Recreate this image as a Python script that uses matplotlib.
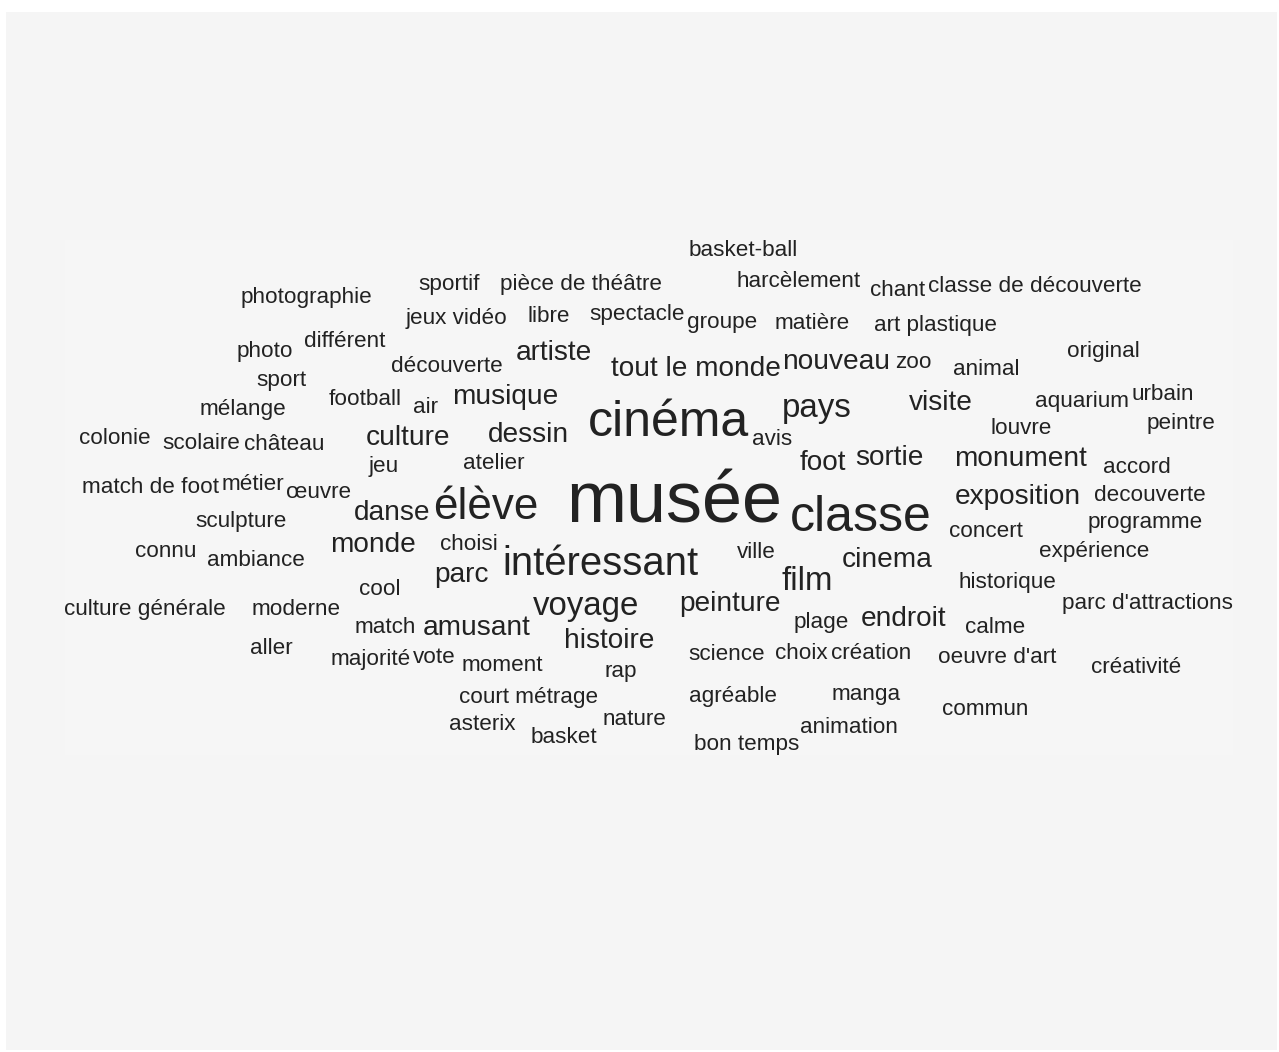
import matplotlib
matplotlib.use("Agg")
import matplotlib.pyplot as plt
from matplotlib.patches import Rectangle

# word cloud: words, weight class (px of em), and where each one sits (left, right, middle y)
words = ["basket-ball", "sportif", "pièce de théâtre", "harcèlement", "chant", "classe de découverte",
         "photographie", "jeux vidéo", "libre", "spectacle", "groupe", "matière", "art plastique",
         "différent", "photo", "artiste", "original", "découverte", "tout le monde", "nouveau", "zoo",
         "animal", "sport", "football", "air", "musique", "aquarium", "urbain", "mélange", "pays",
         "visite", "cinéma", "colonie", "scolaire", "château", "culture", "dessin", "avis", "louvre",
         "peintre", "foot", "sortie", "monument", "jeu", "atelier", "accord", "match de foot",
         "métier", "œuvre", "musée", "élève", "exposition", "decouverte", "classe", "danse",
         "sculpture", "programme", "concert", "connu", "ambiance", "monde", "choisi", "intéressant",
         "ville", "cinema", "expérience", "cool", "parc", "film", "historique", "culture générale",
         "moderne", "voyage", "peinture", "parc d'attractions", "plage", "endroit", "match", "amusant",
         "calme", "histoire", "aller", "majorité", "vote", "moment", "rap", "science", "choix",
         "création", "oeuvre d'art", "créativité", "court métrage", "agréable", "manga", "commun",
         "asterix", "nature", "animation", "basket", "bon temps"]

sizes = [22, 22, 22, 22, 22, 22,
         22, 22, 22, 22, 22, 22, 22,
         22, 22, 28, 22, 22, 28, 28, 22,
         22, 22, 22, 22, 28, 22, 22, 22, 33,
         28, 50, 22, 22, 22, 28, 28, 22, 22,
         22, 28, 28, 28, 22, 22, 22, 22,
         22, 22, 72, 44, 28, 22, 50, 28,
         22, 22, 22, 22, 22, 28, 22, 40,
         22, 28, 22, 22, 28, 33, 22, 22,
         22, 33, 28, 22, 22, 28, 22, 28,
         22, 28, 22, 22, 22, 22, 22, 22, 22,
         22, 22, 22, 22, 22, 22, 22,
         22, 22, 22, 22, 22]

x_left = [689, 418, 501, 738, 870, 929,
          241, 406, 528, 590, 688, 775, 875,
          305, 237, 516, 1067, 391, 611, 783, 895,
          953, 256, 329, 413, 453, 1035, 1132, 200, 782,
          909, 588, 80, 163, 244, 366, 488, 753, 990,
          1147, 800, 856, 955, 369, 463, 1104, 83,
          222, 287, 567, 433, 955, 1094, 790, 355,
          196, 1088, 949, 136, 208, 331, 441, 505,
          737, 843, 1040, 359, 434, 781, 958, 65,
          252, 532, 680, 1063, 794, 861, 355, 423,
          965, 565, 250, 331, 413, 462, 605, 689, 776,
          832, 938, 1092, 460, 689, 832, 942,
          449, 603, 801, 531, 695]

x_right = [797, 480, 662, 860, 925, 1141,
           371, 507, 570, 685, 757, 850, 997,
           385, 293, 592, 1139, 502, 780, 890, 931,
           1019, 306, 401, 438, 557, 1128, 1193, 286, 852,
           973, 748, 150, 240, 324, 450, 568, 792, 1052,
           1215, 846, 923, 1087, 399, 524, 1170, 218,
           284, 350, 782, 538, 1080, 1205, 931, 430,
           286, 1202, 1023, 196, 304, 415, 497, 696,
           775, 931, 1149, 400, 489, 833, 1056, 225,
           340, 640, 780, 1233, 848, 946, 415, 530,
           1025, 654, 292, 410, 455, 543, 637, 764, 827,
           911, 1056, 1181, 598, 776, 900, 1028,
           515, 667, 897, 597, 799]

y_mid = [248, 282, 282, 279, 288, 284,
         295, 316, 314, 312, 320, 321, 323,
         339, 349, 350, 349, 364, 366, 359, 360,
         367, 378, 397, 405, 394, 399, 392, 407, 405,
         400, 418, 436, 441, 442, 435, 432, 437, 426,
         421, 460, 455, 456, 464, 461, 465, 485,
         482, 490, 497, 503, 494, 493, 513, 510,
         519, 520, 529, 549, 558, 542, 542, 561,
         550, 557, 549, 587, 572, 578, 580, 607,
         607, 603, 601, 601, 620, 616, 625, 625,
         625, 638, 646, 657, 655, 663, 669, 652, 651,
         651, 655, 665, 695, 694, 692, 707,
         722, 717, 725, 735, 742]

W, H = 1279, 1052
fig = plt.figure(figsize=(W / 100, H / 100), dpi=100, facecolor="white")
ax = fig.add_axes([0, 0, 1, 1])
ax.set_xlim(0, W)
ax.set_ylim(H, 0)
ax.axis("off")

# panel backgrounds
ax.add_patch(Rectangle((6, 12), 1271, 1038, facecolor="#f5f5f5", edgecolor="none"))
ax.add_patch(Rectangle((65, 240), 1168, 515, facecolor="#f6f6f6", edgecolor="none"))

for w, s, xl, xr, ym in zip(words, sizes, x_left, x_right, y_mid):
    xc = (xl + xr) / 2
    base = ym + 0.36 * s
    px = s * 1.02 if s == 22 else s
    ax.text(xc, base, w, fontsize=px * 0.72, family=["Liberation Sans", "DejaVu Sans"],
            color="#222222", ha="center", va="baseline")

fig.savefig("out.png", dpi=100, facecolor="white")
